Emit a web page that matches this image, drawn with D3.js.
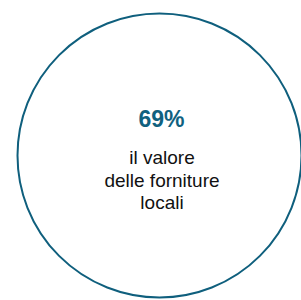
<!DOCTYPE html>
<html>
<head>
<meta charset="utf-8">
<script src="https://cdn.jsdelivr.net/npm/d3@7"></script>
<style>
  html, body { margin: 0; padding: 0; background: #fff; }
  svg { display: block; }
</style>
</head>
<body>
<div id="chart"></div>
<script>
// values
var valueText = ["69%"];
var labelLines = ["il valore", "delle forniture", "locali"];

var width = 301, height = 300;
var cx = 159.5, cy = 155.5, r = 142;

var svg = d3.select("#chart").append("svg")
    .attr("width", width)
    .attr("height", height);

svg.append("circle")
    .attr("cx", cx)
    .attr("cy", cy)
    .attr("r", r)
    .attr("fill", "none")
    .attr("stroke", "#0f5f7d")
    .attr("stroke-width", 2);

svg.selectAll("text.value")
    .data(valueText)
    .enter().append("text")
    .attr("class", "value")
    .attr("x", 161.5)
    .attr("y", 126.5)
    .attr("text-anchor", "middle")
    .attr("font-family", "Liberation Sans, Arial, sans-serif")
    .attr("font-weight", "bold")
    .attr("font-size", 23)
    .attr("fill", "#11617f")
    .text(function(d) { return d; });

svg.selectAll("text.label")
    .data(labelLines)
    .enter().append("text")
    .attr("class", "label")
    .attr("x", 162)
    .attr("y", function(d, i) { return 164.3 + i * 22.5; })
    .attr("text-anchor", "middle")
    .attr("font-family", "Liberation Sans, Arial, sans-serif")
    .attr("font-size", 19)
    .attr("fill", "#111")
    .text(function(d) { return d; });
</script>
</body>
</html>
